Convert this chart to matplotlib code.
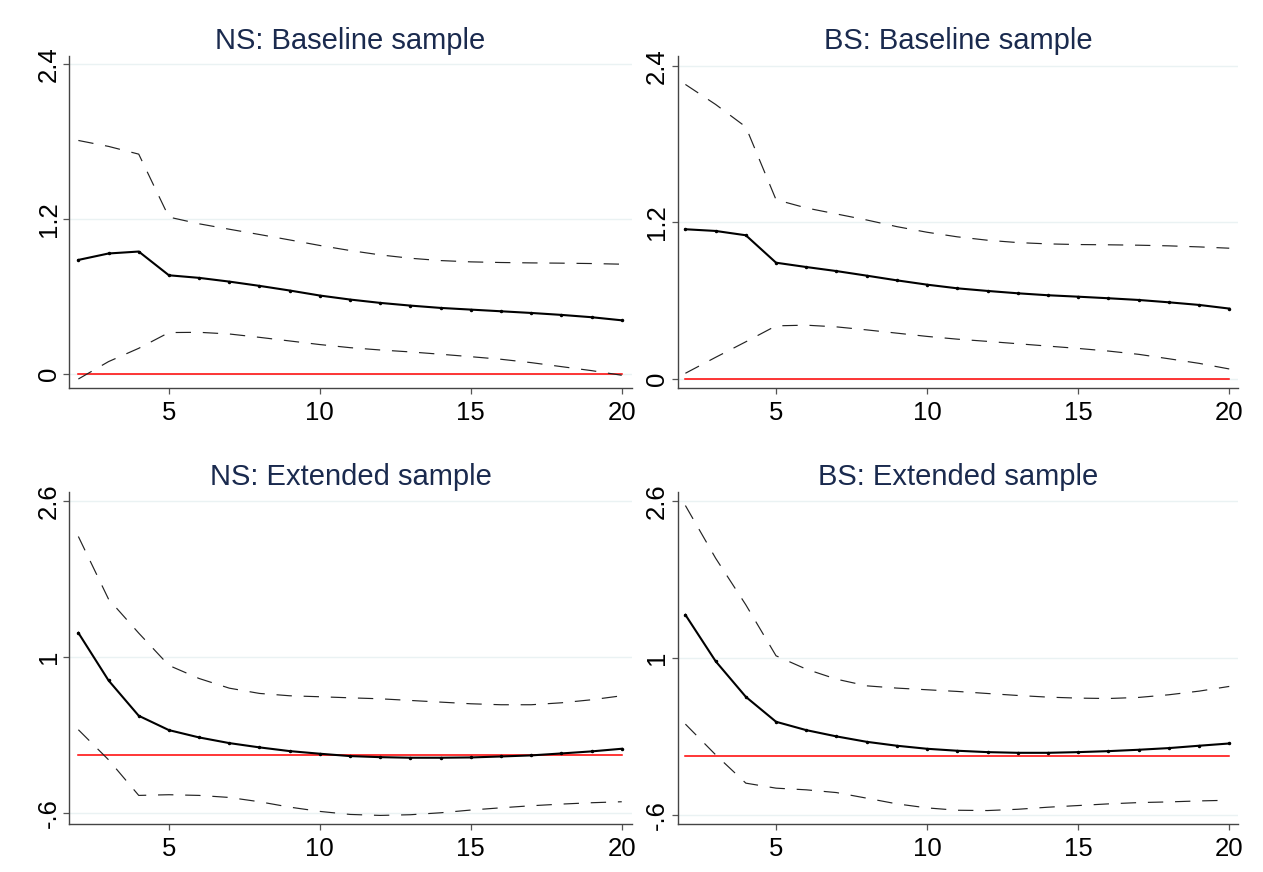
import numpy as np
import matplotlib
matplotlib.use("Agg")
import matplotlib.pyplot as plt

plt.rcParams['font.family'] = ['Liberation Sans', 'DejaVu Sans']

horizon = list(range(2, 21))

# NS: Baseline sample
ns_base_irf = [0.884, 0.934, 0.949, 0.765, 0.745, 0.716, 0.683, 0.647, 0.608, 0.577,
               0.551, 0.530, 0.512, 0.499, 0.486, 0.473, 0.458, 0.440, 0.416]
ns_base_hi = [1.810, 1.764, 1.704, 1.216, 1.164, 1.122, 1.081, 1.039, 0.996, 0.957,
              0.923, 0.897, 0.879, 0.869, 0.864, 0.861, 0.859, 0.856, 0.851]
ns_base_lo = [-0.039, 0.096, 0.199, 0.321, 0.323, 0.310, 0.284, 0.256, 0.228, 0.204,
              0.186, 0.171, 0.153, 0.134, 0.114, 0.088, 0.057, 0.026, -0.010]

# BS: Baseline sample
bs_base_irf = [1.148, 1.135, 1.102, 0.892, 0.859, 0.828, 0.793, 0.757, 0.724, 0.696,
               0.676, 0.658, 0.643, 0.632, 0.620, 0.607, 0.589, 0.569, 0.541]
bs_base_hi = [2.256, 2.103, 1.931, 1.374, 1.311, 1.265, 1.219, 1.168, 1.125, 1.090,
              1.064, 1.046, 1.036, 1.031, 1.029, 1.026, 1.021, 1.013, 1.003]
bs_base_lo = [0.046, 0.168, 0.287, 0.409, 0.414, 0.401, 0.378, 0.353, 0.328, 0.307,
              0.290, 0.272, 0.254, 0.236, 0.216, 0.191, 0.157, 0.122, 0.079]

# NS: Extended sample
ns_ext_irf = [1.249, 0.761, 0.399, 0.252, 0.177, 0.119, 0.075, 0.037, 0.010, -0.014,
              -0.025, -0.031, -0.031, -0.028, -0.018, -0.007, 0.013, 0.034, 0.061]
ns_ext_hi = [2.236, 1.594, 1.246, 0.915, 0.781, 0.682, 0.628, 0.604, 0.594, 0.583,
             0.573, 0.556, 0.539, 0.522, 0.512, 0.512, 0.532, 0.563, 0.604]
ns_ext_lo = [0.256, -0.052, -0.417, -0.410, -0.417, -0.438, -0.482, -0.537, -0.581, -0.612,
             -0.622, -0.615, -0.595, -0.567, -0.544, -0.523, -0.506, -0.492, -0.482]

# BS: Extended sample
bs_ext_irf = [1.441, 0.969, 0.606, 0.352, 0.267, 0.203, 0.148, 0.108, 0.077, 0.057,
              0.043, 0.036, 0.036, 0.043, 0.053, 0.067, 0.084, 0.108, 0.131]
bs_ext_hi = [2.554, 2.018, 1.543, 1.024, 0.888, 0.786, 0.718, 0.695, 0.678, 0.661,
             0.640, 0.620, 0.603, 0.593, 0.589, 0.600, 0.627, 0.664, 0.712]
bs_ext_lo = [0.328, 0.016, -0.273, -0.324, -0.341, -0.369, -0.426, -0.484, -0.525, -0.549,
             -0.552, -0.539, -0.518, -0.501, -0.484, -0.471, -0.464, -0.454, -0.447]

titles = ["NS: Baseline sample", "BS: Baseline sample",
          "NS: Extended sample", "BS: Extended sample"]
base_yticks = [0, 1.2, 2.4]
base_ylabels = ["0", "1.2", "2.4"]
ext_yticks = [-0.6, 1, 2.6]
ext_ylabels = ["-.6", "1", "2.6"]
xticks = [5, 10, 15, 20]

W, H = 1263, 872
fig = plt.figure(figsize=(W / 100, H / 100), dpi=100)
fig.patch.set_facecolor('white')

# panel boxes in pixels: left, right, top, bottom
boxes = [(69.3, 631.7, 55.7, 388.3), (677.7, 1238, 55.7, 388.3),
         (69.3, 631.7, 492.3, 824), (677.7, 1238, 492.3, 824)]
xlims = [(1.70, 20.33), (1.745, 20.29), (1.70, 20.33), (1.745, 20.29)]
ylims = [(-0.111, 2.467), (-0.069, 2.476), (-0.71, 2.689), (-0.689, 2.689)]

series = [(ns_base_irf, ns_base_hi, ns_base_lo),
          (bs_base_irf, bs_base_hi, bs_base_lo),
          (ns_ext_irf, ns_ext_hi, ns_ext_lo),
          (bs_ext_irf, bs_ext_hi, bs_ext_lo)]

for i in range(4):
    l, r, t, b = boxes[i]
    ax = fig.add_axes([l / W, (H - b) / H, (r - l) / W, (b - t) / H])
    irf, hi, lo = series[i]
    yt = base_yticks if i < 2 else ext_yticks
    yl = base_ylabels if i < 2 else ext_ylabels

    for v in yt:
        ax.axhline(v, color='#eaf2f3', lw=1.0, zorder=0)
    ax.plot(horizon, [0] * len(horizon), color='#ff0000', lw=1.1, zorder=2)
    ax.plot(horizon, hi, color='#222222', lw=0.85, linestyle=(0, (13, 10)), zorder=3)
    ax.plot(horizon, lo, color='#222222', lw=0.85, linestyle=(0, (13, 10)), zorder=3)
    ax.plot(horizon, irf, color='black', lw=1.5, marker='o', markersize=1.5, zorder=4)

    ax.set_xlim(*xlims[i])
    ax.set_ylim(*ylims[i])
    ax.set_xticks(xticks)
    ax.set_yticks(yt)
    ax.set_yticklabels(yl, rotation=90, va='center')
    ax.tick_params(axis='both', labelsize=18.5, colors='#555555', labelcolor='black',
                   width=0.9, length=4.3)
    ax.tick_params(axis='y', pad=2)
    ax.tick_params(axis='x', pad=5)
    for s in ['top', 'right']:
        ax.spines[s].set_visible(False)
    for s in ['left', 'bottom']:
        ax.spines[s].set_color('#444444')
        ax.spines[s].set_linewidth(1.0)
    ax.set_title(titles[i], fontsize=21, color='#1a2a4e', pad=5)

plt.savefig('out.png', dpi=100, facecolor='white')
